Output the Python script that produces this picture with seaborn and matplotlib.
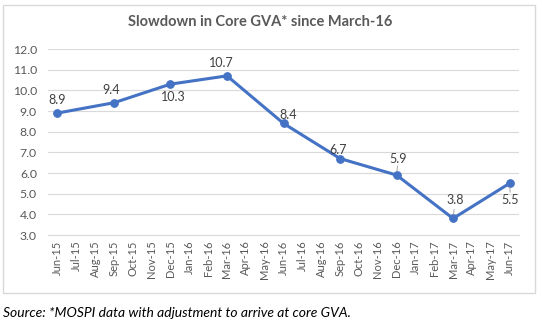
import matplotlib
matplotlib.use("Agg")
import matplotlib.pyplot as plt
import seaborn as sns
import pandas as pd
import numpy as np
from matplotlib.patches import Rectangle

months = ["Jun-15", "Jul-15", "Aug-15", "Sep-15", "Oct-15", "Nov-15", "Dec-15",
          "Jan-16", "Feb-16", "Mar-16", "Apr-16", "May-16", "Jun-16", "Jul-16",
          "Aug-16", "Sep-16", "Oct-16", "Nov-16", "Dec-16", "Jan-17", "Feb-17",
          "Mar-17", "Apr-17", "May-17", "Jun-17"]
quarters = ["Jun-15", "Sep-15", "Dec-15", "Mar-16", "Jun-16", "Sep-16", "Dec-16", "Mar-17", "Jun-17"]
values = [8.9, 9.4, 10.3, 10.7, 8.4, 6.7, 5.9, 3.8, 5.5]
label_offsets = [(0, 13), (-3, 13), (3, -13), (-6, 13), (5, 8), (-2, 9), (2, 16), (2, 18), (1, -17)]
leader = [False, False, False, False, False, False, True, True, True]
yticks = [3.0, 4.0, 5.0, 6.0, 7.0, 8.0, 9.0, 10.0, 11.0, 12.0]

sns.set_style("white")
plt.rcParams['font.family'] = ['Lato', 'DejaVu Sans']

df = pd.DataFrame({"month": quarters, "value": values})
df["pos"] = df["month"].map({m: i for i, m in enumerate(months)})

fig = plt.figure(figsize=(5.42, 3.28), dpi=100)
ax = fig.add_axes([48/542, 1 - 235/328, (519 - 48)/542, (235 - 49)/328])

# outer chart border
fig.patches.append(Rectangle((3/542, 1 - 293/328), (535 - 3)/542, (293 - 5)/328,
                             transform=fig.transFigure, fill=False,
                             edgecolor="#d9d9d9", linewidth=1.0))

sns.lineplot(data=df, x="pos", y="value", ax=ax, color="#4472C4", linewidth=2.2,
             marker="o", markersize=5.5, markeredgecolor="#4472C4")

ax.set_xlim(-0.5, len(months) - 0.5)
ax.set_ylim(3.0, 12.0)
ax.set_yticks(yticks)
ax.set_yticklabels([f"{v:.1f}" for v in yticks], fontsize=8.8, color="#595959")
ax.set_xticks(range(len(months)))
ax.set_xticklabels(months, rotation=90, fontsize=8, color="#595959")
ax.set_xticks(np.arange(-0.5, len(months), 1.0), minor=True)
ax.tick_params(axis="x", which="major", length=0, pad=4)
ax.tick_params(axis="x", which="minor", length=4, color="#d9d9d9", width=0.8)
ax.tick_params(axis="y", length=0, pad=8)
ax.yaxis.grid(True, color="#d9d9d9", linewidth=0.8)
ax.set_axisbelow(True)
for s in ["top", "right", "left"]:
    ax.spines[s].set_visible(False)
ax.spines["bottom"].set_color("#d9d9d9")
ax.spines["bottom"].set_linewidth(0.8)
ax.set_xlabel("")
ax.set_ylabel("")

for pos, v, (dx, dy), ld in zip(df["pos"], df["value"], label_offsets, leader):
    ax.annotate(f"{v:.1f}", (pos, v), xytext=(dx, dy), textcoords="offset pixels",
                ha="center", va="center", fontsize=9, color="#404040")
    if ld:
        sgn = 1 if dy > 0 else -1
        ax.annotate("", (pos, v), xytext=(dx * 0.5, sgn * 9), textcoords="offset pixels",
                    arrowprops=dict(arrowstyle="-", color="#a6a6a6", lw=0.7,
                                    shrinkA=0, shrinkB=3))

fig.text(260/542, 1 - 22/328, "Slowdown in Core GVA* since March-16", ha="center",
         va="center", fontsize=10.5, fontweight="bold", color="#595959")
fig.text(3/542, 1 - 313/328, "Source: *MOSPI data with adjustment to arrive at core GVA.",
         ha="left", va="center", fontsize=10, style="italic", color="#000000")

fig.savefig("out.png", dpi=100)
